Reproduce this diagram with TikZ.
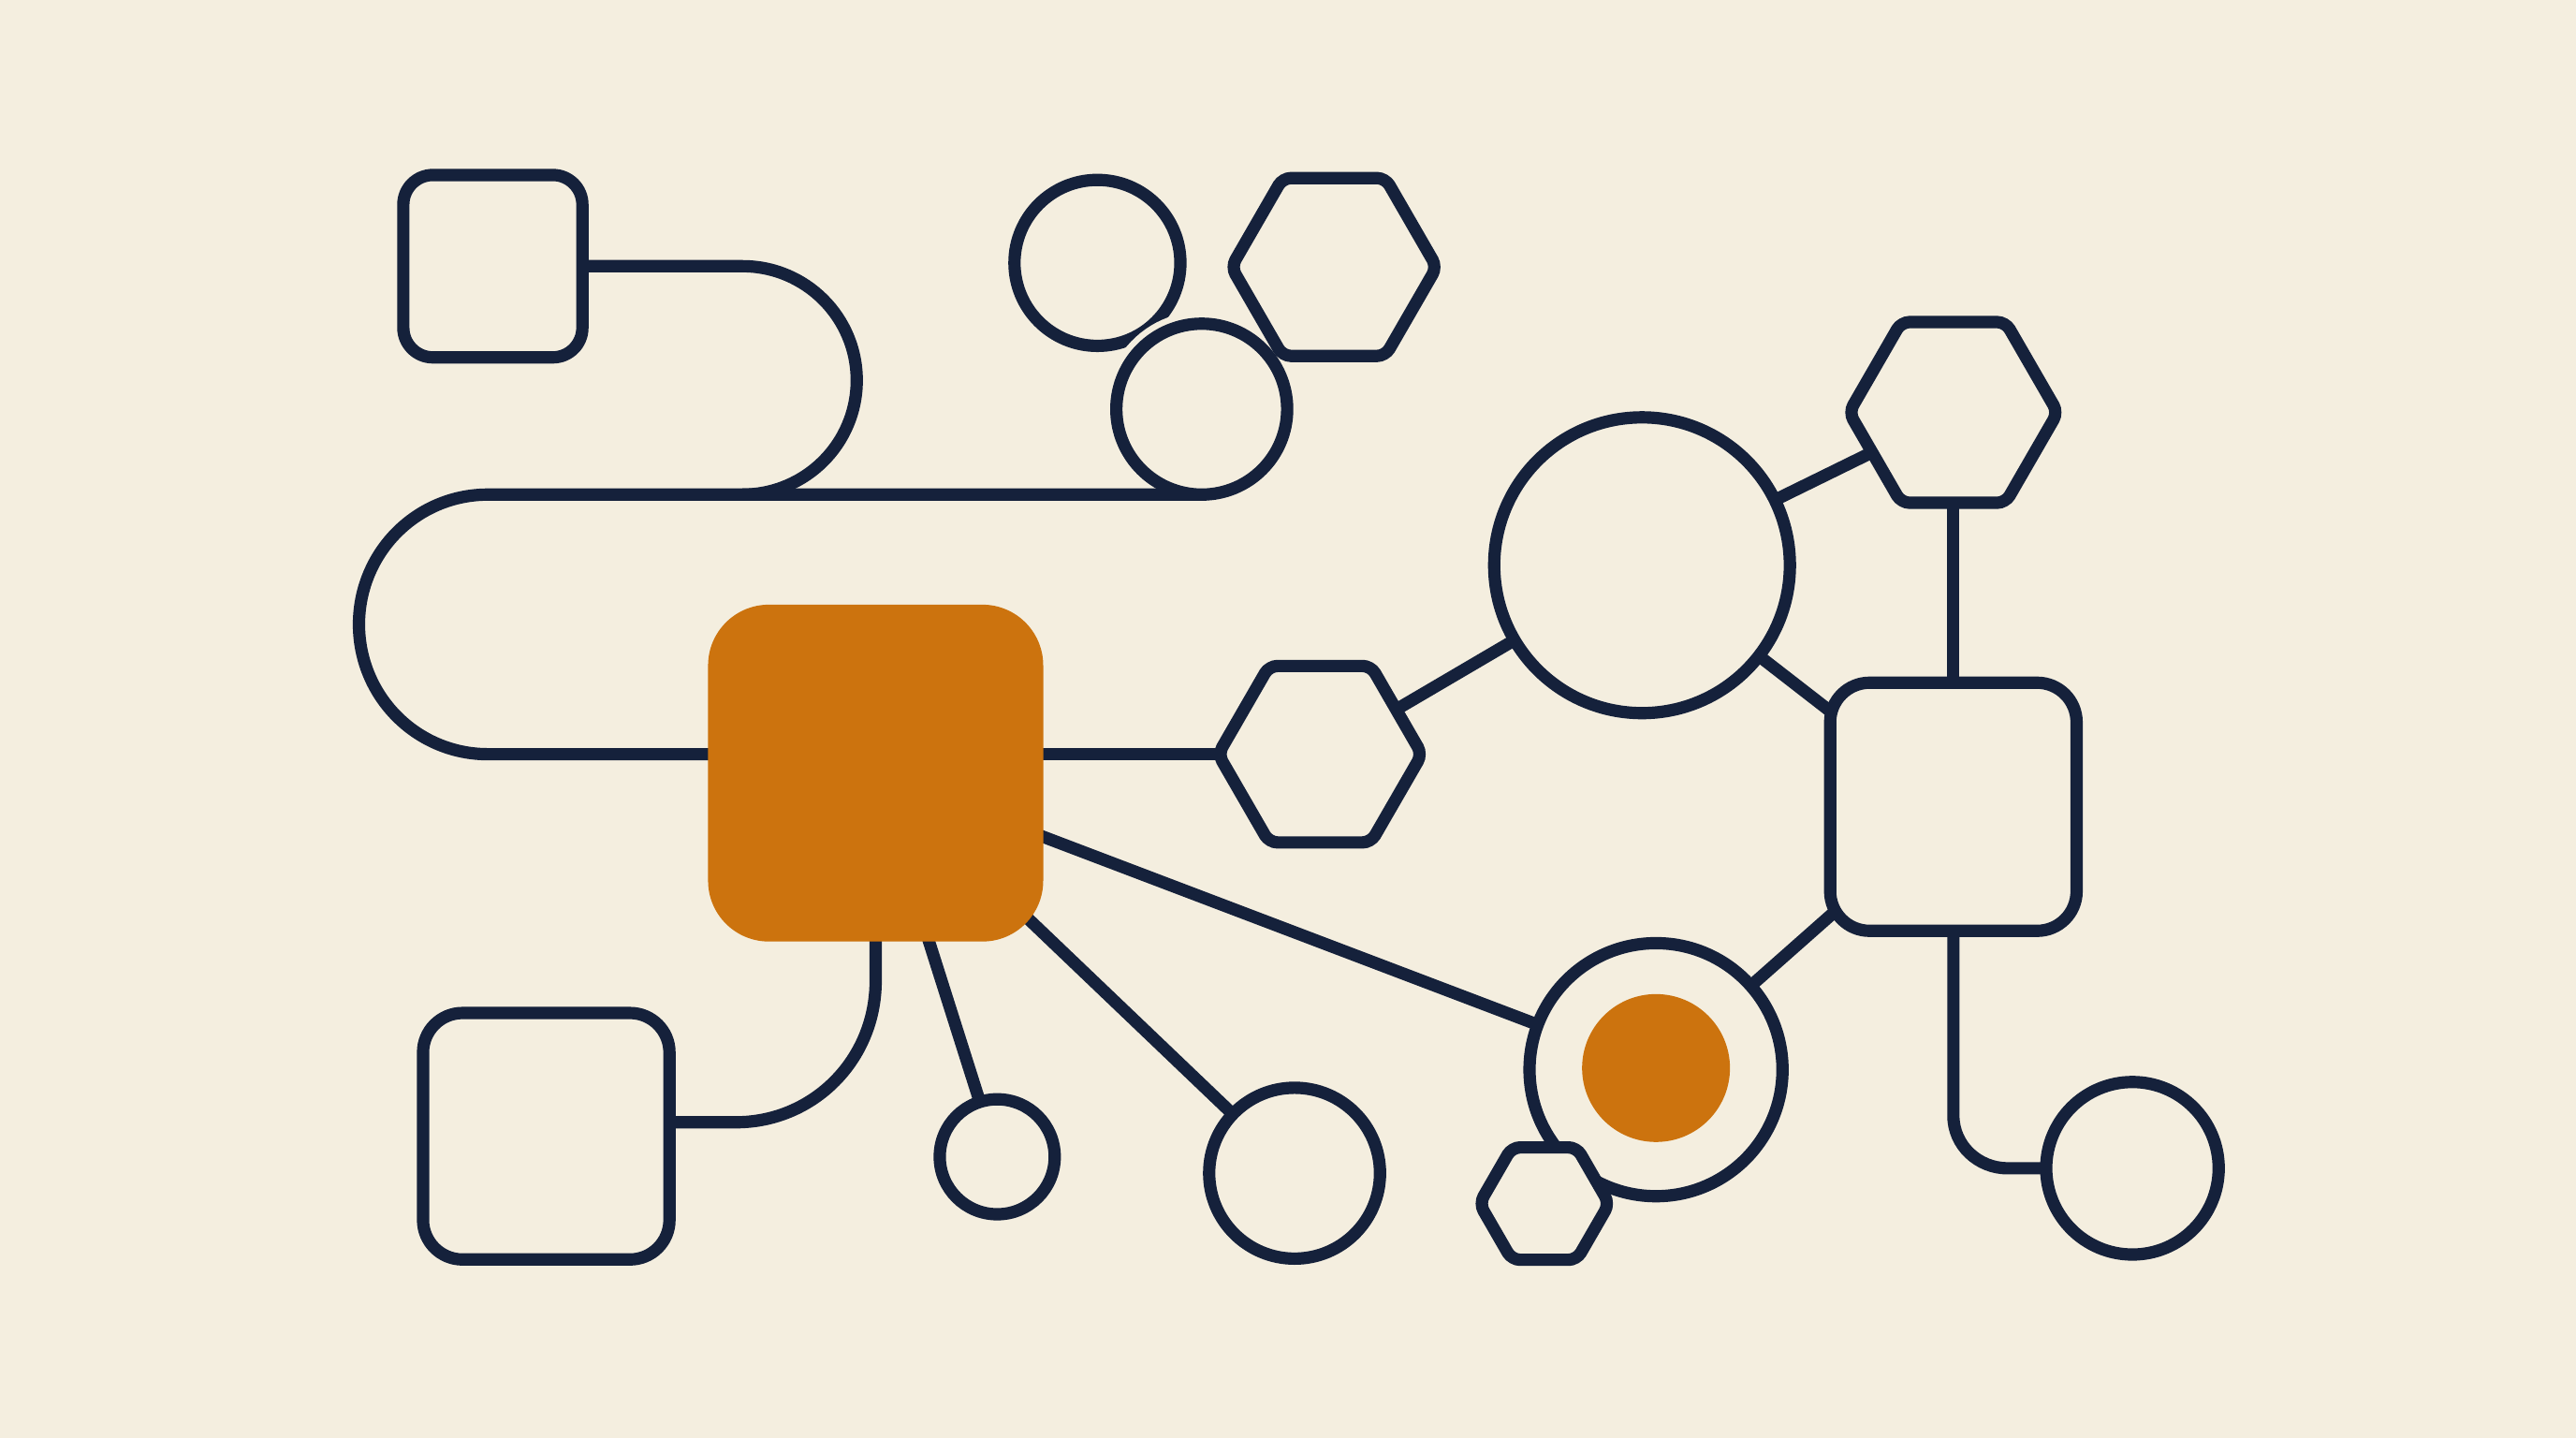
\documentclass[tikz,border=0pt]{standalone}
\usetikzlibrary{shapes.geometric}
\definecolor{bgc}{HTML}{F4EEDF}
\definecolor{navy}{HTML}{15213B}
\definecolor{orng}{HTML}{CC730E}
\pgfdeclarelayer{bglayer}
\pgfdeclarelayer{connlayer}
\pgfsetlayers{bglayer,connlayer,main}
\begin{document}
\begin{tikzpicture}[x=1pt,y=-1pt,
  nbase/.style={draw=navy,line width=7.5pt,fill=bgc,inner sep=0pt,outer sep=0pt},
  nbox/.style={nbase,rectangle,rounded corners=#1},
  nbox/.default=22pt,
  ncirc/.style={nbase,circle,minimum size=#1},
  nhex/.style={nbase,regular polygon,regular polygon sides=6,minimum size=#1,rounded corners=5pt},
  link/.style={draw=navy,line width=7.5pt,line join=round}
]
\begin{pgfonlayer}{bglayer}
\fill[bgc] (0,0) rectangle (1568,875);
\end{pgfonlayer}
\useasboundingbox (0,0) rectangle (1568,875);

% shapes
\node[nbox=18pt,minimum width=109pt,minimum height=111pt] (sqTL) at (300,162) {};
\node[ncirc=101pt] (c1) at (668,160) {};
\coordinate (c2c) at (731.5,249);
\draw[bgc,line width=15pt] (c2c) ++(205:52) arc[start angle=205,end angle=265,radius=52];
\node[ncirc=104pt] (c2) at (c2c) {};
\node[nhex=125pt] (hexT) at (812,162.5) {};
\node[fill=orng,rectangle,rounded corners=37pt,minimum width=204pt,minimum height=205pt,inner sep=0pt,outer sep=0pt] (oSq) at (533,470.5) {};
\node[nhex=124pt] (hexM) at (803.5,459) {};
\node[ncirc=180pt] (bigC) at (999.5,344) {};
\node[nhex=127pt] (hexTR) at (1189,251) {};
\node[nbox=24pt,minimum width=150pt,minimum height=151pt] (sqR) at (1189,491) {};
\node[ncirc=154pt] (ring) at (1008,651) {};
\node[circle,fill=orng,minimum size=90pt,inner sep=0pt] (dot) at (1008,650) {};
\node[nhex=79pt] (hexS) at (940,732.5) {};
\node[ncirc=105pt] (cBR) at (1298,711) {};
\node[nbox=24pt,minimum width=150pt,minimum height=150pt] (sqBL) at (332.5,691.5) {};
\node[ncirc=70pt] (cS) at (607,704) {};
\node[ncirc=104pt] (cB) at (788,714) {};

\coordinate (j1) at (448,683);
\coordinate (j2) at (1222,711);

% connectors
\begin{pgfonlayer}{connlayer}
\draw[link] (sqTL.center) -- (452,162)
  .. controls (490.4,162) and (521.5,193.1) .. (521.5,231.5)
  .. controls (521.5,269.9) and (490.4,301) .. (452,301);
\draw[link] (c2.south) -- (297,301)
  .. controls (253.4,301) and (218.5,336.4) .. (218.5,380)
  .. controls (218.5,423.6) and (253.4,459) .. (297,459)
  -- (oSq.center |- hexM.center);
\draw[link] (oSq.center |- hexM.center) -- (hexM.center);
\draw[link] (hexM.center) -- (bigC.center);
\draw[link] (bigC.center) -- (hexTR.center);
\draw[link] (bigC.center) -- (sqR.center);
\draw[link] (hexTR.center) -- (sqR.center);
\draw[link] (sqR.center) -- (ring.center);
\draw[link] (oSq.center) -- (ring.center);
\draw[link] (oSq.center) -- (cS.center);
\draw[link] (oSq.center) -- (cB.center);
\draw[link] (oSq.center) -- (533,597)
  .. controls (533,645) and (495,683) .. (j1) -- (sqBL.center |- j1);
\draw[link] (sqR.center) -- (1189,679)
  .. controls (1189,697) and (1204,711) .. (j2) -- (cBR.center);
\end{pgfonlayer}
\end{tikzpicture}
\end{document}
